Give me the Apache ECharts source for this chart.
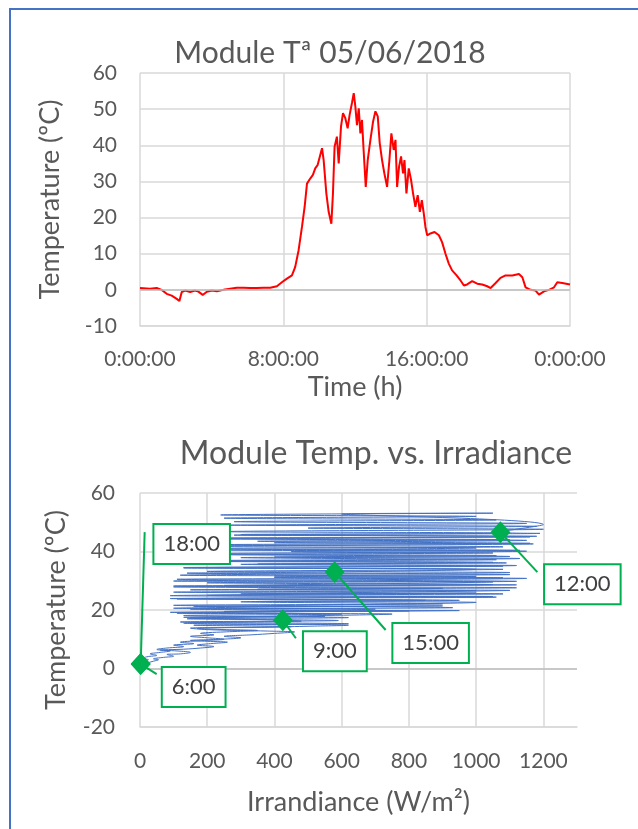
<!DOCTYPE html>
<html>
<head>
<meta charset="utf-8">
<script src="https://cdn.jsdelivr.net/npm/echarts@6/dist/echarts.min.js"></script>
<style>
  html, body { margin: 0; padding: 0; background: #fff; }
  #chart { width: 638px; height: 829px; }
</style>
</head>
<body>
<div id="chart"></div>
<script>
// top chart: module temperature over the day (hours, ºC)
var hours = [0, 0.56, 0.93, 1.21, 1.49, 1.77, 2.05, 2.20, 2.33, 2.52, 2.80, 3.07, 3.26, 3.50, 3.73, 4.01, 4.29, 4.66,
  5.03, 5.40, 5.78, 6.15, 6.52, 6.89, 7.27, 7.64, 7.92, 8.20, 8.48, 8.66, 8.85, 9.04, 9.19, 9.32, 9.50, 9.65, 9.78,
  9.91, 10.06, 10.16, 10.25, 10.40, 10.53, 10.68, 10.77, 10.86, 10.99, 11.09, 11.22, 11.33, 11.46, 11.59, 11.70,
  11.83, 11.93, 12.02, 12.11, 12.21, 12.30, 12.39, 12.48, 12.60, 12.71, 12.86, 13.01, 13.14, 13.27, 13.38, 13.51,
  13.64, 13.79, 13.92, 14.03, 14.16, 14.26, 14.35, 14.46, 14.57, 14.68, 14.76, 14.87, 15.00, 15.13, 15.24, 15.37,
  15.50, 15.62, 15.73, 15.84, 15.93, 16.03, 16.21, 16.44, 16.68, 16.86, 17.05, 17.24, 17.42, 17.67, 17.89, 18.08,
  18.26, 18.54, 18.82, 19.10, 19.38, 19.57, 19.85, 20.12, 20.40, 20.78, 21.15, 21.34, 21.52, 21.80, 22.08, 22.27,
  22.55, 22.83, 23.11, 23.29, 23.57, 24.00];
var moduleTemp = [0.5, 0.3, 0.5, 0, -1.1, -1.6, -2.5, -3.1, -0.6, -0.2, -0.6, -0.2, -0.5, -1.4, -0.5, -0.2, -0.4, 0,
  0.3, 0.6, 0.6, 0.5, 0.5, 0.6, 0.6, 1.0, 2.1, 3.1, 4.0, 6.3, 10.9, 17.4, 23, 29.4, 30.8, 31.8, 33.6,
  34.5, 37.3, 39.2, 35.9, 26.7, 21.6, 18.3, 26.7, 39.6, 42.4, 35, 45.2, 48.9, 47.5, 44.7, 48.4,
  51.7, 54.4, 50.7, 45.6, 50.2, 43.3, 47, 38.7, 28.5, 35.9, 41.5, 46.6, 49.4, 48, 40.6, 35.9,
  32.2, 28.5, 35.9, 43.3, 38.7, 41.5, 28.5, 34.1, 36.9, 32.2, 35.9, 26.7, 33.6, 30.4, 26.7, 23,
  26.2, 21.6, 24.8, 21.1, 17.4, 15.1, 15.6, 16, 15.1, 13.2, 10, 7.2, 5.4, 4, 2.6, 1.2,
  1.5, 2.4, 1.7, 1.5, 1, 0.5, 1.9, 3.3, 4, 4, 4.4, 3.5, 0.7, 0, -0.2, -1.3,
  -0.4, 0, 0.7, 2.1, 1.9, 1.5];

// bottom chart: irradiance (W/m2) and module temperature (ºC), in time order
var irradiance = [
  // morning
  0, 3, 8, 15, 25, 40, 55, 40, 70, 100, 80, 120, 150, 110, 60, 130, 180, 220, 170, 210,
  260, 200, 150, 240, 300, 250, 330, 400, 460, 380, 300, 200, 150, 250, 400, 520, 620, 560, 400, 250,
  130, 200, 350, 480, 425,
  // towards noon
  300, 150,
  550, 130, 750, 110, 950, 250, 700, 100, 900, 160,
  1000, 350, 850, 110, 1050, 90, 1000, 300, 1100, 150,
  900, 100, 1120, 250, 1050, 100, 1150, 400, 1000, 120,
  1100, 200, 1080, 130, 1120, 300, 1050, 150, 1130, 400,
  1060, 170, 1150, 250, 1000, 180, 1170, 400, 1150, 260,
  1180, 280, 1100, 250, 1200, 500, 1180, 260, 1150, 280,
  1060, 250, 1000, 240, 1050, 600, 1200, 1072,
  // afternoon
  1190, 300, 1160, 270, 1100, 350, 1160, 220, 1080, 200,
  1130, 450, 1050, 170, 1100, 300, 1060, 150, 1090, 350,
  1080, 130, 1000, 579, 140, 1100, 400, 1080, 110, 1120,
  200, 1050, 100, 1120, 350, 1000, 100, 1080, 200, 1060,
  90, 950, 300, 900, 100, 930, 150, 800, 90, 600,
  130, 620, 140, 590, 120, 620, 160, 450, 170,
  // evening
  250, 350, 250, 180, 220, 150, 200, 250, 180, 120, 160, 100, 130, 80, 50, 90, 60, 30, 50, 20,
  10, 25, 10, 5, 0];
var panelTemp = [
  0.5, 0.8, 1.2, 1.5, 2, 2.5, 3, 3.3, 3.8, 4.2, 4.8, 5, 5.5, 6, 6.3, 6.6, 7, 7.5, 8, 8.5,
  9, 9.3, 9.6, 10, 10.5, 11, 11.5, 12, 12.5, 12.8, 13, 13.3, 13.8, 14, 14.2, 14.5, 14.8, 15, 15.2, 15.3,
  15.5, 15.8, 16, 16.2, 16.5,
  16.9, 17.2,
  17.8, 17.5, 18.6, 18.9, 19.8, 19.5, 20.3, 20.6, 21.4, 21.2,
  22.6, 22.9, 23.3, 23.8, 24.6, 24.9, 25.8, 25.5, 26.7, 26.9,
  27.4, 27.9, 28.6, 28.4, 29.6, 29.9, 30.8, 31.1, 31.5, 31.9,
  32.8, 33.2, 33.9, 34.4, 35.2, 35.6, 36.3, 36.8, 37.6, 38.1,
  38.6, 39.2, 40.1, 40.5, 41.2, 41.8, 42.6, 43, 43.8, 44.3,
  45.2, 45.6, 46.3, 46.8, 47.6, 48, 48.6, 49, 49.6, 50.2,
  50.8, 51.4, 52, 52.5, 53.1, 52.8, 49.2, 46.6,
  46.2, 45.8, 45, 44.6, 44, 43.5, 42.8, 42.3, 41.6, 41,
  40.4, 40, 39.5, 39, 38.3, 37.9, 37.2, 36.7, 36.1, 35.7,
  35, 34.5, 33.9, 33, 32.6, 32.1, 31.6, 31, 30.5, 29.8,
  29.3, 28.7, 28.2, 27.6, 27.1, 26.6, 26.1, 25.5, 25, 24.4,
  23.9, 23.3, 22.8, 22.1, 21.6, 20.8, 20.3, 19.7, 19.2, 18.6,
  18.1, 17.4, 17, 16.4, 15.9, 15.3, 14.8, 14.3, 13.7,
  13.3, 13, 12.5, 12, 11.5, 11, 10.5, 10, 9.5, 9, 8.5, 8, 7.5, 7, 6.5, 6, 5.5, 5, 4.5, 4,
  3.5, 3, 2.5, 2, 1.5];

// highlighted times on the scatter
var markTimes = ['6:00', '9:00', '12:00', '15:00', '18:00'];
var markIrr = [2, 425, 1072, 579, 2];
var markTemp = [1.5, 16.5, 46.6, 33, 1.5];
// callout placement in pixels, relative to the marker
var boxOffsets = [[53, 23], [52, 31], [82, 52], [96, 71], [51, -120]];
var leadEnds = [[16, 10], [13, 18], [37, 40], [51, 58], [4, -132]];

var chartDom = document.getElementById('chart');
var myChart = echarts.init(chartDom);

var txt = '#595959';
var gridCol = '#d9d9d9';
var green = '#00B050';
var font = 'Lato, "Open Sans", sans-serif';

function renderCallout(params, api) {
  var i = params.dataIndex;
  var p = api.coord([api.value(0), api.value(1)]);
  var b = boxOffsets[i], l = leadEnds[i];
  return {
    type: 'group',
    children: [
      {
        type: 'line',
        shape: { x1: p[0], y1: p[1], x2: p[0] + l[0], y2: p[1] + l[1] },
        style: { stroke: green, lineWidth: 2 }
      },
      {
        type: 'polygon',
        shape: { points: [[p[0], p[1] - 11], [p[0] + 10, p[1]], [p[0], p[1] + 11], [p[0] - 10, p[1]]] },
        style: { fill: green }
      },
      {
        type: 'text',
        x: p[0] + b[0], y: p[1] + b[1],
        style: {
          text: markTimes[i],
          align: 'center', verticalAlign: 'middle',
          fill: '#404040', font: '22px ' + font,
          backgroundColor: '#fff', borderColor: green, borderWidth: 2,
          padding: [9, 9, 7, 9]
        }
      }
    ]
  };
}

var option = {
  backgroundColor: '#fff',
  animation: false,
  textStyle: { fontFamily: font },
  title: [
    {
      text: 'Module Tª 05/06/2018',
      left: 325, top: 33, textAlign: 'center',
      textStyle: { color: txt, fontSize: 30, fontWeight: 'normal', fontFamily: font }
    },
    {
      text: 'Module Temp. vs. Irradiance',
      left: 371, top: 433, textAlign: 'center',
      textStyle: { color: txt, fontSize: 32, fontWeight: 'normal', fontFamily: font }
    }
  ],
  graphic: [{
    type: 'rect',
    shape: { x: 10, y: 9, width: 660, height: 840 },
    style: { fill: 'none', stroke: '#4472C4', lineWidth: 2 },
    silent: true
  }],
  grid: [
    { left: 140, right: 68, top: 73, height: 253 },
    { left: 140, right: 61, top: 493, height: 234 }
  ],
  xAxis: [
    {
      gridIndex: 0, type: 'value', min: 0, max: 24, interval: 8,
      name: 'Time (h)', nameLocation: 'middle', nameGap: 48,
      nameTextStyle: { color: txt, fontSize: 27, fontFamily: font },
      axisLine: { show: true, onZero: false, lineStyle: { color: gridCol, width: 1.5 } },
      axisTick: { show: false },
      axisLabel: {
        color: txt, fontSize: 21, margin: 23, fontFamily: font,
        formatter: function (v) { return (v === 24 ? 0 : v) + ':00:00'; }
      },
      splitLine: { show: true, lineStyle: { color: gridCol, width: 1.5 } }
    },
    {
      gridIndex: 1, type: 'value', min: 0, max: 1300, interval: 200,
      name: 'Irrandiance (W/m²)', nameLocation: 'middle', nameGap: 62,
      nameTextStyle: { color: txt, fontSize: 27, fontFamily: font },
      axisLine: { show: true, onZero: false, lineStyle: { color: gridCol, width: 1.5 } },
      axisTick: { show: false },
      axisLabel: {
        color: txt, fontSize: 21, margin: 24, fontFamily: font, showMaxLabel: false,
        formatter: function (v) { return String(v); }
      },
      splitLine: { show: true, showMaxLine: false, lineStyle: { color: gridCol, width: 1.5 } }
    }
  ],
  yAxis: [
    {
      gridIndex: 0, type: 'value', min: -10, max: 60, interval: 10,
      name: 'Temperature (ºC)', nameLocation: 'middle', nameGap: 76,
      nameTextStyle: { color: txt, fontSize: 27, fontFamily: font },
      axisLine: { show: false },
      axisTick: { show: false },
      axisLabel: { color: txt, fontSize: 21, margin: 23, fontFamily: font },
      splitLine: { show: true, lineStyle: { color: gridCol, width: 1.5 } }
    },
    {
      gridIndex: 1, type: 'value', min: -20, max: 60, interval: 20,
      name: 'Temperature (ºC)', nameLocation: 'middle', nameGap: 70,
      nameTextStyle: { color: txt, fontSize: 27, fontFamily: font },
      axisLine: { show: false },
      axisTick: { show: false },
      axisLabel: { color: txt, fontSize: 21, margin: 25, fontFamily: font },
      splitLine: { show: true, lineStyle: { color: gridCol, width: 1.5 } }
    }
  ],
  series: [
    {
      type: 'line',
      xAxisIndex: 0, yAxisIndex: 0,
      data: hours.map(function (h, i) { return [h, moduleTemp[i]]; }),
      showSymbol: false,
      lineStyle: { color: '#FF0000', width: 2 },
      markLine: {
        silent: true, symbol: 'none', label: { show: false },
        lineStyle: { color: '#bfbfbf', width: 1.5, type: 'solid' },
        data: [{ yAxis: 0 }]
      }
    },
    {
      type: 'line',
      xAxisIndex: 1, yAxisIndex: 1,
      data: irradiance.map(function (x, i) { return [x, panelTemp[i]]; }),
      showSymbol: false,
      smooth: 0.4,
      lineStyle: { color: '#4472C4', width: 1 },
      markLine: {
        silent: true, symbol: 'none', label: { show: false },
        lineStyle: { color: '#bfbfbf', width: 1.5, type: 'solid' },
        data: [{ yAxis: 0 }]
      }
    },
    {
      type: 'custom',
      xAxisIndex: 1, yAxisIndex: 1,
      coordinateSystem: 'cartesian2d',
      data: markIrr.map(function (x, i) { return [x, markTemp[i]]; }),
      renderItem: renderCallout,
      silent: true,
      z: 5
    }
  ]
};

option && myChart.setOption(option);

window.addEventListener('resize', function () {
  myChart.resize();
});
</script>
</body>
</html>
